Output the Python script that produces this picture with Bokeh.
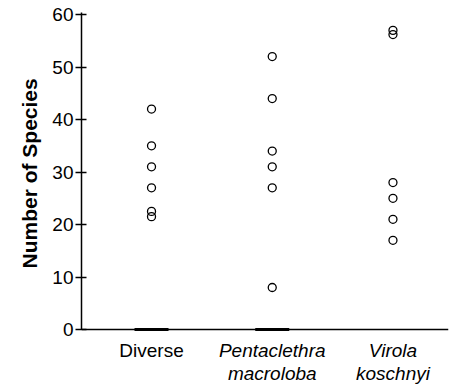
from bokeh.plotting import figure
from bokeh.models import Range1d, FixedTicker, Span, ColumnDataSource, Title
from bokeh.core.properties import value
from bokeh.embed import file_html
from bokeh.resources import INLINE

# ---- data ----
categories = ["Diverse", "Pentaclethra macroloba", "Virola koschnyi"]
category_labels = ["Diverse", "Pentaclethra\nmacroloba", "Virola\nkoschnyi"]
category_italic = [False, True, True]
diverse = [42, 35, 31, 27, 22.5, 21.5]
pentaclethra = [52, 44, 34, 31, 27, 8]
virola = [57, 56.2, 28, 25, 21, 17]
zero_groups = ["Diverse", "Pentaclethra macroloba"]
y_ticks = [0, 10, 20, 30, 40, 50, 60]
y_label = "Number of Species"

series = {"Diverse": diverse, "Pentaclethra macroloba": pentaclethra, "Virola koschnyi": virola}

FONT = "Liberation Sans"

p = figure(width=449, height=385, output_backend="svg", toolbar_location=None,
           x_range=Range1d(-0.58, 2.46), y_range=Range1d(-10.48, 60.4),
           min_border_left=81, min_border_right=1, min_border_top=12, min_border_bottom=1)
p.outline_line_color = None
p.xgrid.visible = False
p.ygrid.visible = False
p.background_fill_color = "white"
p.border_fill_color = "white"
p.xaxis.visible = False

xs, ys = [], []
for cat in categories:
    idx = categories.index(cat)
    for v in series[cat]:
        xs.append(idx)
        ys.append(v)
p.scatter(xs, ys, marker="circle", size=8, fill_color=None, line_color="black", line_width=1.3)

zx = [categories.index(c) for c in zero_groups]
p.scatter(zx, [0] * len(zx), marker="dash", size=34, line_color="black", line_width=3)

# x axis line at zero
p.add_layout(Span(location=0, dimension="width", line_color="black", line_width=1.5))

# y axis
p.yaxis.ticker = FixedTicker(ticks=y_ticks)
p.yaxis.bounds = (0, 60.4)
p.yaxis.axis_line_width = 1.5
p.yaxis.axis_line_color = "black"
p.yaxis.major_tick_in = 5
p.yaxis.major_tick_out = 6
p.yaxis.major_tick_line_width = 1.5
p.yaxis.minor_tick_line_color = None
p.yaxis.major_label_text_font = FONT
p.yaxis.major_label_text_font_size = "19px"
p.yaxis.major_label_text_color = "black"
p.yaxis.major_label_standoff = 2

p.add_layout(Title(text=y_label, align="left", offset=116, text_font=FONT,
                   text_font_size="21px", text_font_style="bold", text_color="black",
                   standoff=17), "left")

for italic in (False, True):
    sel = [i for i, it in enumerate(category_italic) if it == italic]
    src = ColumnDataSource(dict(x=sel, y=[0] * len(sel), t=[category_labels[i] for i in sel]))
    p.text(x="x", y="y", text="t", source=src, y_offset=11, text_align="center",
           text_baseline="top", text_font=value(FONT),
           text_font_size="19px", text_font_style="italic" if italic else "normal",
           text_line_height=1.05, text_color="black")

open("out.html", "w").write(file_html(p, INLINE))
